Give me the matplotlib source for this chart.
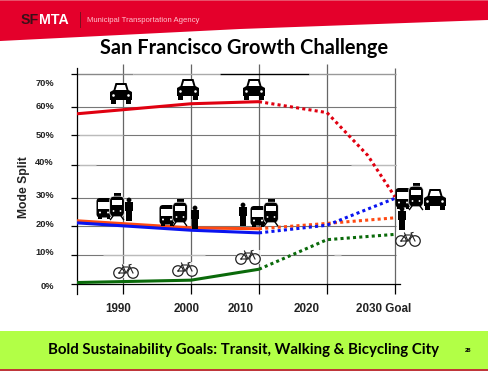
import matplotlib
matplotlib.use('Agg')
import matplotlib.pyplot as plt
from matplotlib.patches import Polygon, Rectangle, Circle, FancyBboxPatch, Ellipse

W, H = 488, 371

# values
years_solid = [1983.2, 2000, 2010]
years_dotted = [2010, 2020, 2030]
red_solid = [57.6, 61, 61.7]
red_dotted_years = [2010, 2020, 2026, 2030]
red_dotted = [61.7, 58, 43.5, 29.5]
orange_solid = [21.4, 19, 18.7]
orange_dotted = [18.7, 20.5, 22.4]
blue_solid = [20.7, 18.2, 17.3]
blue_dotted = [17.3, 19.9, 29]
green_solid = [0.5, 1.3, 5]
green_dotted = [5, 15, 16.8]

x_ticks = [1990, 2000, 2010, 2020, 2030]
y_ticks = [0, 9.8, 19.6, 29.2, 40.3, 50.3, 60, 71]
y_labels = ['0%', '10%', '20%', '30%', '40%', '50%', '60%', '70%']
y_label_pos = [-1, 10.6, 20, 30, 41, 50.3, 60, 68]
x_labels = ['1990', '2000', '2010', '2020', '2030 Goal']
x_label_pos = [1989.3, 1999.4, 2007.3, 2017.0, 2028.3]

RED = '#E4002B'
LIME = '#B2FF46'
ARIAL = 'Liberation Sans'

fig = plt.figure(figsize=(W / 100, H / 100), dpi=100)

# slide background: banner, footer, titles (pixel coordinates)
bg = fig.add_axes([0, 0, 1, 1], zorder=0)
bg.set_xlim(0, W)
bg.set_ylim(H, 0)
bg.axis('off')
bg.add_patch(Polygon([(0, 0), (W, 0), (W, 20), (240, 29), (0, 41)], color=RED, lw=0))
bg.add_patch(Rectangle((0, 0), W, 1.2, color='#E8506A', lw=0))
bg.add_patch(Rectangle((0, 331), W, 38, color=LIME, lw=0))
bg.add_patch(Rectangle((0, 369), W, 2, color='#C0363A', lw=0))
bg.plot([79.5, 79.5], [12, 27], color='#7a1020', lw=0.7)
bg.text(20.5, 20, 'SF', color='#3a1018', fontsize=10.2, fontweight='bold', family=ARIAL, va='center')
bg.text(38.5, 20, 'MTA', color='white', fontsize=10.2, fontweight='bold', family=ARIAL, va='center')
bg.text(87, 20.5, 'Municipal Transportation Agency', color='#ffc4cf', fontsize=5.55, family=ARIAL, va='center')
bg.text(244, 48, 'San Francisco Growth Challenge', fontsize=14.4, fontweight='bold', family='Lato',
        ha='center', va='center', color='black')
bg.text(244, 350, 'Bold Sustainability Goals: Transit, Walking & Bicycling City', fontsize=10.8,
        fontweight='bold', family='Lato', ha='center', va='center', color='black')
bg.text(468, 351, '28', fontsize=4.2, fontweight='bold', family=ARIAL, ha='center', va='center')
bg.text(24, 187, 'Mode Split', fontsize=8.7, fontweight='bold', family=ARIAL, rotation=90,
        ha='center', va='center', color='#222222')

# chart
ax = fig.add_axes([76.5 / W, (H - 294) / H, (400 - 76.5) / W, 230 / H], zorder=1)
ax.patch.set_alpha(0)
ax.set_xlim(1983.16, 2030.74)
ax.set_ylim(-3.38, 74.45)
for s in ['top', 'right']:
    ax.spines[s].set_visible(False)
ax.spines['left'].set_bounds(-3.38, 73)
ax.spines['bottom'].set_position(('data', 0))
ax.spines['left'].set_linewidth(0.9)
ax.spines['bottom'].set_linewidth(0.9)

ax.hlines(y_ticks[1:-1], 1983.16, 2030.2, color='#777777', lw=0.8, zorder=1)
ax.vlines(x_ticks[:-1], 0, 74.45, color='#666666', lw=0.9, zorder=1)
ax.vlines(x_ticks[-1], 0, 73, color='#666666', lw=0.9, zorder=1)

# top line changes shade along its length
top_from = [1983.16, 1991.4, 2004.3, 2017.4]
top_to = [1991.4, 2004.3, 2017.4, 2030.2]
top_shade = ['#888888', '#aaaaaa', 'black', '#999999']
for a, b, c in zip(top_from, top_to, top_shade):
    ax.hlines(71, a, b, lw=1.0, color=c, zorder=1)
# lighter stretches of the grid
light_y = [50.3, 40.3, 9.8, 9.8, 40.3]
light_from = [1983.6, 1983.6, 1987, 2021, 2023.5]
light_to = [1990, 1986, 2002, 2022, 2030.2]
for y, a, b in zip(light_y, light_from, light_to):
    ax.hlines(y, a, b, color='#bbbbbb', lw=0.9, zorder=1)

ax.set_xticks(x_ticks)
ax.set_xticklabels([])
ax.set_yticks(y_ticks)
ax.set_yticklabels([])
ax.tick_params(axis='x', length=7, width=0.9, direction='out')
ax.tick_params(axis='y', length=4.5, width=0.9, direction='out')

for v, t in zip(y_label_pos, y_labels):
    ax.text(1979.85, v, t, fontsize=6.7, fontweight='bold', family=ARIAL, ha='right', va='center', color='#222222')
for v, t in zip(x_label_pos, x_labels):
    ax.text(v, -8.5, t, fontsize=8.4, fontweight='bold', family=ARIAL, ha='center', va='center',
            color='#222222', clip_on=False)

solid = dict(lw=2.2, solid_capstyle='butt')
dots = dict(lw=2.2, linestyle=(0, (1, 1.05)), zorder=3)
ax.plot(years_solid, orange_solid, color='#FF4A12', zorder=3, **solid)
ax.plot(years_solid, blue_solid, color='#0A14F0', zorder=4, **solid)
ax.plot(years_solid, red_solid, color='#E00010', zorder=4, **solid)
ax.plot(years_solid, green_solid, color='#0A6A0A', zorder=4, **solid)
ax.plot(years_dotted, orange_dotted, color='#FF4A12', **dots)
ax.plot(years_dotted, blue_dotted, color='#0A14F0', **dots)
ax.plot(red_dotted_years, red_dotted, color='#E00010', **dots)
ax.plot(years_dotted, green_dotted, color='#0A6A0A', **dots)

# pictograms sit on their own overlay in pixel coordinates
ic = fig.add_axes([0, 0, 1, 1], zorder=2)
ic.patch.set_alpha(0)
ic.set_xlim(0, W)
ic.set_ylim(H, 0)
ic.axis('off')


def car(cx, cy):
    ic.add_patch(Polygon([(cx - 7.5, cy - 3), (cx - 5.5, cy - 10), (cx + 5.5, cy - 10), (cx + 7.5, cy - 3),
                          (cx + 11, cy - 1), (cx + 11, cy + 7), (cx - 11, cy + 7), (cx - 11, cy - 1)],
                         color='black', lw=0))
    ic.add_patch(Polygon([(cx - 5.5, cy - 3), (cx - 4, cy - 8), (cx + 4, cy - 8), (cx + 5.5, cy - 3)],
                         color='white', lw=0))
    ic.add_patch(Rectangle((cx - 10, cy + 6), 5, 4.5, color='black', lw=0))
    ic.add_patch(Rectangle((cx + 5, cy + 6), 5, 4.5, color='black', lw=0))
    ic.add_patch(Circle((cx - 7.5, cy + 2.5), 1.3, color='white', lw=0))
    ic.add_patch(Circle((cx + 7.5, cy + 2.5), 1.3, color='white', lw=0))


def bus(cx, cy):
    ic.add_patch(FancyBboxPatch((cx - 7, cy - 9.5), 14, 18.5, boxstyle='round,pad=0.5,rounding_size=3.5', fc='black', ec='black', lw=0))
    ic.add_patch(Rectangle((cx - 5.8, cy - 6.5), 11.6, 7, color='white', lw=0))
    ic.add_patch(Rectangle((cx - 6, cy + 8), 3.5, 2.5, color='black', lw=0))
    ic.add_patch(Rectangle((cx + 2.5, cy + 8), 3.5, 2.5, color='black', lw=0))
    ic.add_patch(Circle((cx - 4, cy + 4.5), 1, color='white', lw=0))
    ic.add_patch(Circle((cx + 4, cy + 4.5), 1, color='white', lw=0))


def train(cx, cy):
    ic.add_patch(Rectangle((cx - 3.5, cy - 14), 7, 4, color='black', lw=0))
    ic.add_patch(FancyBboxPatch((cx - 7, cy - 10.5), 14, 20, boxstyle='round,pad=0.3,rounding_size=4.5', fc='black', ec='white', lw=0.5))
    ic.add_patch(Rectangle((cx - 5, cy - 7), 10, 5, color='white', lw=0))
    ic.add_patch(Circle((cx - 3.5, cy + 4), 0.9, color='white', lw=0))
    ic.add_patch(Circle((cx + 3.5, cy + 4), 0.9, color='white', lw=0))
    ic.plot([cx - 4, cx - 6.5], [cy + 9, cy + 12.5], color='black', lw=1)
    ic.plot([cx + 4, cx + 6.5], [cy + 9, cy + 12.5], color='black', lw=1)


def person(cx, cy):
    ic.add_patch(Circle((cx, cy - 9), 2.4, color='black', lw=0))
    ic.add_patch(Polygon([(cx - 4, cy - 7), (cx + 4, cy - 7), (cx + 4, cy + 2), (cx + 2.9, cy + 2),
                          (cx + 2.9, cy + 11.5), (cx - 2.9, cy + 11.5), (cx - 2.9, cy + 2), (cx - 4, cy + 2)],
                         color='black', lw=0))


def bike(cx, cy):
    ic.add_patch(Rectangle((cx - 12.5, cy - 7), 25, 14, color='white', lw=0, alpha=0.8))
    for dx in (-7, 7):
        ic.add_patch(Ellipse((cx + dx, cy + 2), 10.5, 10.5, fc='none', ec='#222222', lw=0.9))
    ic.plot([cx - 7, cx - 3, cx + 3.5, cx, cx - 7], [cy + 2, cy - 4, cy - 4, cy + 2, cy + 2], color='#222222', lw=0.8)
    ic.plot([cx, cx - 3.5], [cy + 2, cy - 6], color='#222222', lw=0.8)
    ic.plot([cx + 7, cx + 3, cx + 5], [cy + 2, cy - 6, cy - 6.5], color='#222222', lw=0.8)


for c in [(121, 93), (188, 89), (254, 89), (435, 199)]:
    car(*c)
for b in [(104, 208), (167, 215), (258, 216), (403, 198)]:
    bus(*b)
for t in [(117, 207), (180, 213), (271, 213), (416, 197)]:
    train(*t)
for p in [(129, 209), (195, 217), (243, 214), (402, 218)]:
    person(*p)
for b in [(126, 271), (185, 269), (248, 257), (408, 239)]:
    bike(*b)

fig.savefig('out.png', dpi=100)
